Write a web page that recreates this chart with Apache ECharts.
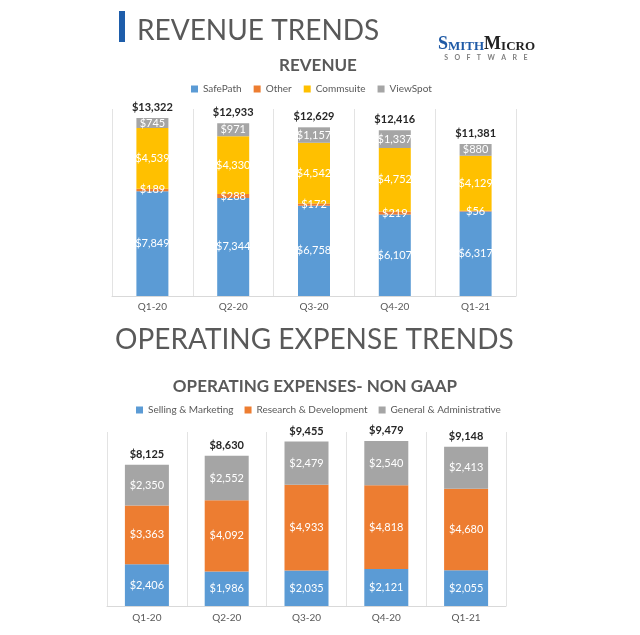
<!DOCTYPE html>
<html>
<head>
<meta charset="utf-8">
<script src="https://cdn.jsdelivr.net/npm/echarts@6/dist/echarts.min.js"></script>
<style>
html,body{margin:0;padding:0;background:#fff;}
#main{width:640px;height:635px;}
</style>
</head>
<body>
<div id="main"></div>
<script>
// ---- Revenue chart data ----
const revCategories = ['Q1-20', 'Q2-20', 'Q3-20', 'Q4-20', 'Q1-21'];
const revSafePath  = [7849, 7344, 6758, 6107, 6317];
const revOther     = [189, 288, 172, 219, 56];
const revCommsuite = [4539, 4330, 4542, 4752, 4129];
const revViewSpot  = [745, 971, 1157, 1337, 880];
const revTotals    = [13322, 12933, 12629, 12416, 11381];

// ---- Operating expense chart data ----
const opxCategories = ['Q1-20', 'Q2-20', 'Q3-20', 'Q4-20', 'Q1-21'];
const opxSelling  = [2406, 1986, 2035, 2121, 2055];
const opxResearch = [3363, 4092, 4933, 4818, 4680];
const opxGeneral  = [2350, 2552, 2479, 2540, 2413];
const opxTotals   = [8125, 8630, 9455, 9479, 9148];

const FONT = 'Lato, "Open Sans", sans-serif';
const money = v => '$' + Number(v).toLocaleString('en-US');

const inLabel = {
  show: true, position: 'inside', color: '#ffffff', fontSize: 11,
  fontFamily: FONT, formatter: p => money(p.value)
};
const totalLabel = {
  show: true, position: 'top', distance: 5, color: '#262626', fontSize: 11,
  fontWeight: 'bold', fontFamily: FONT, formatter: p => money(p.value)
};

function seg(name, data, color, xi, bw, stack) {
  return {
    name, type: 'bar', stack, data, xAxisIndex: xi, yAxisIndex: xi,
    barWidth: bw, itemStyle: { color }, label: inLabel, silent: true
  };
}
function total(name, data, xi, bw) {
  return {
    name, type: 'bar', data, xAxisIndex: xi, yAxisIndex: xi, barWidth: bw,
    barGap: '-100%', itemStyle: { color: 'rgba(0,0,0,0)' }, label: totalLabel,
    silent: true, z: 1
  };
}

const letters = 'SOFTWARE'.split('').map(c => '{s|' + c + '}').join('');
const SERIF = '"Liberation Serif", "DejaVu Serif", serif';

const option = {
  backgroundColor: '#ffffff',
  animation: false,
  textStyle: { fontFamily: FONT },
  graphic: [
    { type: 'rect', shape: { x: 119, y: 11, width: 6, height: 31 }, style: { fill: '#1E5DAA' } }
  ],
  title: [
    { text: 'REVENUE TRENDS', left: 132, top: 12,
      textStyle: { fontSize: 28, fontWeight: 'normal', color: '#595959', fontFamily: FONT } },
    { text: 'REVENUE', left: 313, textAlign: 'center', top: 52,
      textStyle: { fontSize: 17, fontWeight: 'bold', color: '#595959', fontFamily: FONT } },
    { text: '{a|S}{b|MITH}{c|M}{d|ICRO}', left: 433, top: 30,
      textStyle: { rich: {
        a: { fontSize: 18, fontWeight: 'bold', color: '#1F5AA6', fontFamily: SERIF, verticalAlign: 'bottom' },
        b: { fontSize: 13, fontWeight: 'bold', color: '#1F5AA6', fontFamily: SERIF, verticalAlign: 'bottom' },
        c: { fontSize: 18, color: '#222222', fontFamily: SERIF, verticalAlign: 'bottom' },
        d: { fontSize: 13, color: '#222222', fontFamily: SERIF, verticalAlign: 'bottom' }
      } } },
    { text: letters, left: 436, top: 49,
      textStyle: { rich: { s: { fontSize: 7, color: '#7f7f7f', padding: [0, 3.2, 0, 3.2], fontFamily: 'Lato, sans-serif' } } } },
    { text: 'OPERATING EXPENSE TRENDS', left: 110, top: 321,
      textStyle: { fontSize: 28, fontWeight: 'normal', color: '#595959', fontFamily: FONT } },
    { text: 'OPERATING EXPENSES- NON GAAP', left: 310, textAlign: 'center', top: 373,
      textStyle: { fontSize: 17, fontWeight: 'bold', color: '#595959', fontFamily: FONT } }
  ],
  legend: [
    { data: ['SafePath', 'Other', 'Commsuite', 'ViewSpot'], left: 186, top: 79,
      icon: 'rect', itemWidth: 7, itemHeight: 7, itemGap: 12,
      textStyle: { color: '#595959', fontSize: 10, fontFamily: FONT } },
    { data: ['Selling & Marketing', 'Research & Development', 'General & Administrative'],
      left: 131, top: 400, icon: 'rect', itemWidth: 7, itemHeight: 7, itemGap: 11,
      textStyle: { color: '#595959', fontSize: 10, fontFamily: FONT } }
  ],
  grid: [
    { left: 112, right: 124, top: 109, bottom: 339 },
    { left: 107, right: 134, top: 432, bottom: 29 }
  ],
  xAxis: [
    { type: 'category', data: revCategories, gridIndex: 0,
      axisLine: { lineStyle: { color: '#D9D9D9' } }, axisTick: { show: false },
      splitLine: { show: true, lineStyle: { color: '#E3E3E3' } },
      axisLabel: { color: '#595959', fontSize: 10, margin: 6, fontFamily: FONT } },
    { type: 'category', data: opxCategories, gridIndex: 1,
      axisLine: { lineStyle: { color: '#D9D9D9' } }, axisTick: { show: false },
      splitLine: { show: true, lineStyle: { color: '#E3E3E3' } },
      axisLabel: { color: '#595959', fontSize: 10, margin: 7, fontFamily: FONT } }
  ],
  yAxis: [
    { type: 'value', gridIndex: 0, min: 0, max: 14000, show: false, splitLine: { show: false } },
    { type: 'value', gridIndex: 1, min: 0, max: 10000, show: false, splitLine: { show: false } }
  ],
  series: [
    seg('SafePath', revSafePath, '#5B9BD5', 0, 32, 'rev'),
    seg('Other', revOther, '#ED7D31', 0, 32, 'rev'),
    seg('Commsuite', revCommsuite, '#FFC000', 0, 32, 'rev'),
    seg('ViewSpot', revViewSpot, '#A5A5A5', 0, 32, 'rev'),
    total('Revenue Total', revTotals, 0, 32),
    seg('Selling & Marketing', opxSelling, '#5B9BD5', 1, 44, 'opx'),
    seg('Research & Development', opxResearch, '#ED7D31', 1, 44, 'opx'),
    seg('General & Administrative', opxGeneral, '#A5A5A5', 1, 44, 'opx'),
    total('Opex Total', opxTotals, 1, 44)
  ]
};

const chart = echarts.init(document.getElementById('main'), null, { renderer: 'canvas' });
chart.setOption(option);
</script>
</body>
</html>
